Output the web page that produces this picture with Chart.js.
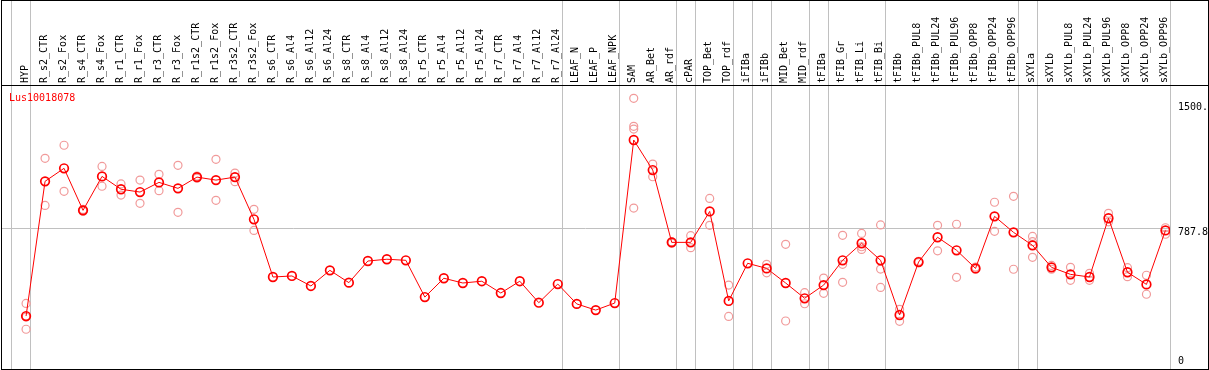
<!DOCTYPE html>
<html>
<head>
<meta charset="utf-8">
<script src="https://cdn.jsdelivr.net/npm/chart.js@4"></script>
<style>
  html, body { margin: 0; padding: 0; background: #fff; }
</style>
</head>
<body>
<canvas id="chart" width="1209" height="370"></canvas>
<script>
// categories along the top, one column each
const categories = [
  "HYP", "R_s2_CTR", "R_s2_Fox", "R_s4_CTR", "R_s4_Fox", "R_r1_CTR", "R_r1_Fox",
  "R_r3_CTR", "R_r3_Fox", "R_r1s2_CTR", "R_r1s2_Fox", "R_r3s2_CTR", "R_r3s2_Fox",
  "R_s6_CTR", "R_s6_Al4", "R_s6_Al12", "R_s6_Al24", "R_s8_CTR", "R_s8_Al4",
  "R_s8_Al12", "R_s8_Al24", "R_r5_CTR", "R_r5_Al4", "R_r5_Al12", "R_r5_Al24",
  "R_r7_CTR", "R_r7_Al4", "R_r7_Al12", "R_r7_Al24", "LEAF_N", "LEAF_P", "LEAF_NPK",
  "SAM", "AR_Bet", "AR_rdf", "cPAR", "TOP_Bet", "TOP_rdf", "iFIBa", "iFIBb",
  "MID_Bet", "MID_rdf", "tFIBa", "tFIB_Gr", "tFIB_Li", "tFIB_Bi", "tFIBb",
  "tFIBb_PUL8", "tFIBb_PUL24", "tFIBb_PUL96", "tFIBb_OPP8", "tFIBb_OPP24", "tFIBb_OPP96",
  "sXYLa", "sXYLb", "sXYLb_PUL8", "sXYLb_PUL24", "sXYLb_PUL96", "sXYLb_OPP8",
  "sXYLb_OPP24", "sXYLb_OPP96"
];

const seriesName = "Lus10018078";

// mean per category
const meanValues = [
  289, 1055, 1129, 890, 1083, 1010, 994, 1049, 1015, 1079, 1062, 1079, 839,
  511, 517, 460, 549, 479, 602, 612, 606, 397, 504, 477, 487, 420, 487, 365, 471,
  358, 323, 363,
  1290, 1119, 708, 708, 884, 375, 589, 560, 477, 390, 465, 606, 703, 606, 295,
  596, 737, 663, 560, 856, 765, 691, 566, 526, 511, 845, 538, 469, 776
];

// single replicates per category
const replicates = [
  [361, 283, 214], [1186, 918], [1260, 998], [895, 885], [1140, 1027], [1040, 977],
  [1062, 930], [1095, 1002], [1146, 879], [1085, 1073], [1180, 947], [1102, 1053],
  [896, 776],
  [], [], [], [], [], [], [], [], [], [], [], [], [], [], [], [],
  [], [], [],
  [1527, 1368, 1352, 903], [1153, 1081], [712, 704], [746, 678], [958, 805], [465, 287],
  [], [583, 535], [697, 261], [422, 359], [505, 418], [748, 583, 481], [759, 668, 683],
  [807, 556, 452], [327, 259], [600, 592], [805, 660], [811, 509], [568, 555],
  [936, 771], [970, 555], [742, 712, 623], [577, 555], [566, 492], [532, 492],
  [873, 825], [564, 513], [521, 413], [791, 754]
];

// last category index of each group (vertical separators)
const groupEnds = [-1, 0, 28, 31, 34, 35, 37, 38, 39, 41, 42, 45, 52, 53, 60];

const yTickValues = [0, 787.8, 1500];
const yTickLabels = ["0", "787.8", "1500."];

const FONT = "'DejaVu Sans Mono', monospace";
const X_MIN = -1.32, X_MAX = 60.24;

const meanPoints = meanValues.map((v, i) => ({ x: i, y: v }));
const repPoints = [];
replicates.forEach((list, i) => {
  list.forEach(v => repPoints.push({ x: i, y: v }));
});

function noPad(s) {
  s.paddingLeft = 0;
  s.paddingRight = 0;
  s.paddingTop = 0;
  s.paddingBottom = 0;
}

// frame + series name
const framePlugin = {
  id: "frame",
  afterDatasetsDraw(chart) {
    const ctx = chart.ctx;
    ctx.save();
    ctx.fillStyle = "#ff0000";
    ctx.font = "10px " + FONT;
    ctx.textBaseline = "alphabetic";
    ctx.fillText(chart.data.datasets[0].label, 9, 101);
    ctx.restore();
  },
  afterDraw(chart) {
    const ctx = chart.ctx;
    ctx.save();
    ctx.strokeStyle = "#000";
    ctx.lineWidth = 1;
    ctx.strokeRect(1.5, 0.5, 1207, 369);
    ctx.beginPath();
    ctx.moveTo(1, 85.5);
    ctx.lineTo(1209, 85.5);
    ctx.stroke();
    ctx.restore();
  }
};

new Chart(document.getElementById("chart"), {
  type: "line",
  data: {
    datasets: [
      {
        label: seriesName,
        data: meanPoints,
        borderColor: "#ff0000",
        borderWidth: 1,
        tension: 0,
        pointRadius: 4.3,
        pointBorderWidth: 1.7,
        pointBorderColor: "#ff0000",
        pointBackgroundColor: "rgba(0,0,0,0)"
      },
      {
        label: "replicates",
        type: "scatter",
        data: repPoints,
        showLine: false,
        pointRadius: 4,
        pointBorderWidth: 1.2,
        pointBorderColor: "#f19a9a",
        pointBackgroundColor: "rgba(0,0,0,0)"
      }
    ]
  },
  options: {
    responsive: false,
    animation: false,
    layout: { autoPadding: false, padding: { left: 1, right: 0, top: 0, bottom: 1 } },
    plugins: { legend: { display: false }, tooltip: { enabled: false } },
    scales: {
      x: {
        type: "linear",
        position: "top",
        weight: 1,
        min: X_MIN,
        max: X_MAX,
        afterBuildTicks: s => { s.ticks = categories.map((c, i) => ({ value: i })); },
        afterFit: s => { s.height = 86; noPad(s); },
        ticks: {
          autoSkip: false,
          minRotation: 90,
          maxRotation: 90,
          padding: 3,
          labelOffset: 11,
          color: "#000",
          font: { family: FONT, size: 10 },
          callback: v => categories[v]
        },
        grid: { display: false, drawTicks: false },
        border: { display: false }
      },
      xg: {
        type: "linear",
        position: "top",
        weight: 0,
        min: X_MIN,
        max: X_MAX,
        afterBuildTicks: s => { s.ticks = groupEnds.map(g => ({ value: g + 0.24 })); },
        afterFit: s => { s.height = 0; noPad(s); },
        ticks: { display: false },
        grid: { color: "#c0c0c0", lineWidth: 1, drawTicks: true, tickLength: 86 },
        border: { display: false }
      },
      y: {
        position: "right",
        min: -12,
        max: 1597,
        afterBuildTicks: s => { s.ticks = yTickValues.map(v => ({ value: v })); },
        afterFit: s => { s.width = 39; noPad(s); },
        ticks: {
          padding: 8,
          labelOffset: 4,
          color: "#000",
          font: c => ({
            family: FONT,
            size: 10,
            lineHeight: c.tick && c.tick.value === 0 ? "18px" : 1.2
          }),
          callback: v => {
            const k = yTickValues.indexOf(v);
            return v === 0 ? [yTickLabels[k], ""] : yTickLabels[k];
          }
        },
        grid: {
          drawTicks: false,
          color: c => (c.tick && c.tick.value === 787.8 ? "#c0c0c0" : "rgba(0,0,0,0)")
        },
        border: { display: false }
      }
    }
  },
  plugins: [framePlugin]
});
</script>
</body>
</html>
